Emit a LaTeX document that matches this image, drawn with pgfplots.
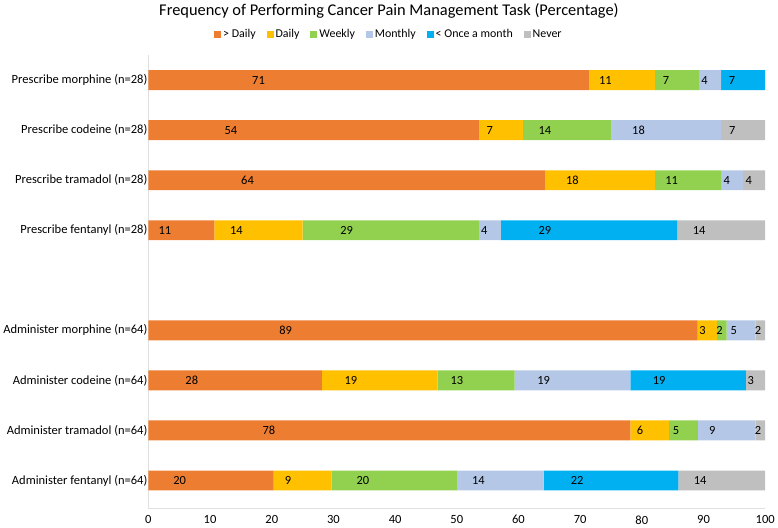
\documentclass[border=0pt]{standalone}
\usepackage{fontspec}
\setmainfont{Carlito}
\usepackage{pgfplots}
\pgfplotsset{compat=1.18}
\definecolor{cA}{HTML}{ED7D31}
\definecolor{cB}{HTML}{FFC000}
\definecolor{cC}{HTML}{92D050}
\definecolor{cD}{HTML}{B4C7E7}
\definecolor{cE}{HTML}{00B0F0}
\definecolor{cF}{HTML}{BFBFBF}
\begin{document}
\begin{tikzpicture}
\begin{axis}[
  scale only axis, width=621pt, height=456pt,
  clip=false,
  xbar stacked, bar width=20pt,
  xmin=0, xmax=100, ymin=0.45, ymax=9.5,
  xtick={0,10,...,100},
  ytick={1,2,3,4,6,7,8,9},
  yticklabels={Administer fentanyl (n=64),Administer tramadol (n=64),Administer codeine (n=64),Administer morphine (n=64),Prescribe fentanyl (n=28),Prescribe tramadol (n=28),Prescribe codeine (n=28),Prescribe morphine (n=28)},
  axis x line*=bottom, axis y line*=left,
  axis line style={draw=black!12, line width=0.8pt},
  tick style={draw=none},
  x axis line style={-}, y axis line style={-},
  every tick label/.append style={font=\fontsize{12.6}{15}\selectfont},
  yticklabel style={xshift=2.5pt},
  xticklabel style={yshift=-4pt},
  /pgf/number format/assume math mode=true,
  point meta=explicit symbolic,
  nodes near coords,
  visualization depends on=rawx \as \rawx,
  every node near coord/.append style={anchor=center, xshift={-1.5525pt*\rawx}, font=\fontsize{12.5}{14}\selectfont, text=black},
  legend columns=6,
  legend style={at={(rel axis cs:0.39,1.046)}, anchor=center, draw=none, fill=none, font=\fontsize{12}{14}\selectfont, /tikz/every even column/.append style={column sep=9pt}},
  legend image code/.code={\fill[#1] (0pt,-3.5pt) rectangle (7pt,3.5pt);},
]
\addplot[fill=cA, draw=none] coordinates {(71.43,9)[71] (53.57,8)[54] (64.29,7)[64] (10.71,6)[11] (89.06,4)[89] (28.13,3)[28] (78.13,2)[78] (20.31,1)[20]};
\addplot[fill=cB, draw=none] coordinates {(10.71,9)[11] (7.14,8)[7] (17.86,7)[18] (14.29,6)[14] (3.13,4)[3] (18.75,3)[19] (6.25,2)[6] (9.38,1)[9]};
\addplot[fill=cC, draw=none] coordinates {(7.14,9)[7] (14.29,8)[14] (10.71,7)[11] (28.57,6)[29] (1.56,4)[2] (12.5,3)[13] (4.69,2)[5] (20.31,1)[20]};
\addplot[fill=cD, draw=none] coordinates {(3.57,9)[4] (17.86,8)[18] (3.57,7)[4] (3.57,6)[4] (4.69,4)[5] (18.75,3)[19] (9.38,2)[9] (14.06,1)[14]};
\addplot[fill=cE, draw=none] coordinates {(7.14,9)[7] (0,8)[] (0,7)[] (28.57,6)[29] (0,4)[] (18.75,3)[19] (0,2)[] (21.88,1)[22]};
\addplot[fill=cF, draw=none] coordinates {(0,9)[] (7.14,8)[7] (3.57,7)[4] (14.29,6)[14] (1.56,4)[2] (3.13,3)[3] (1.56,2)[2] (14.06,1)[14]};
\legend{> Daily, Daily, Weekly, Monthly, < Once a month, Never}
\node[font=\fontsize{16.5}{19}\selectfont] at (rel axis cs:0.39,1.098) {Frequency of Performing Cancer Pain Management Task (Percentage)};
\end{axis}
\end{tikzpicture}
\end{document}
